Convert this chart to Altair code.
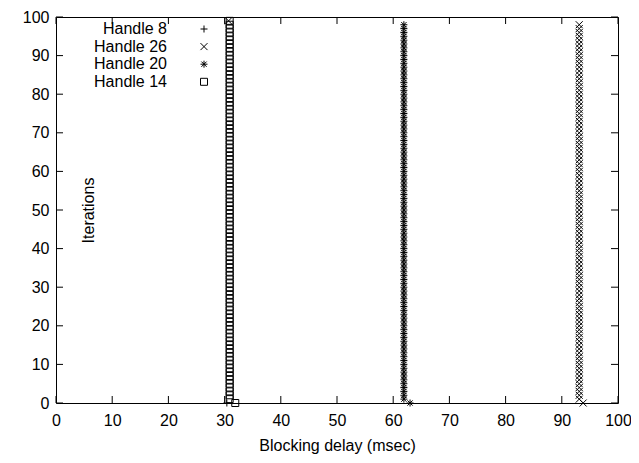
import altair as alt
import pandas as pd

# ---- data ----
handles = ["Handle 8", "Handle 26", "Handle 20", "Handle 14"]

h14_iter = list(range(1, 100)) + [0]
h14_delay = [30.9] * 99 + [31.9]

h20_iter = list(range(1, 99)) + [0]
h20_delay = [61.9] * 98 + [63.0]

h26_iter = list(range(1, 99)) + [0, 99]
h26_delay = [93.1] * 98 + [93.8, 30.7]

h8_iter = [0]
h8_delay = [30.4]

x_ticks = [0, 10, 20, 30, 40, 50, 60, 70, 80, 90, 100]
y_ticks = [0, 10, 20, 30, 40, 50, 60, 70, 80, 90, 100]

rows = []
for name, its, ds in [("Handle 8", h8_iter, h8_delay), ("Handle 26", h26_iter, h26_delay),
                      ("Handle 20", h20_iter, h20_delay), ("Handle 14", h14_iter, h14_delay)]:
    for i, d in zip(its, ds):
        rows.append({"handle": name, "delay": d, "iteration": i})
df = pd.DataFrame(rows)

W, H = 562, 386
FONT = "Liberation Sans"
FS = 16

plus_p = "M-1,0L1,0M0,-1L0,1"
x_p = "M-1,-1L1,1M-1,1L1,-1"
star_p = "M-1,0L1,0M0,-1L0,1M-0.75,-0.75L0.75,0.75M-0.75,0.75L0.75,-0.75"
shape_scale = alt.Scale(domain=handles, range=[plus_p, x_p, star_p, "square"])
size_scale = alt.Scale(domain=handles, range=[49, 49, 64, 70])

xs = alt.Scale(domain=[0, 100], nice=False, zero=False)
ys = alt.Scale(domain=[0, 100], nice=False, zero=False)

x_axis = alt.Axis(
    values=x_ticks, title="Blocking delay (msec)", grid=False, domain=False, ticks=False,
    labelOverlap=False, labelFlush=False,
    labelFont=FONT, labelFontSize=FS, labelColor="black", labelPadding=9,
    titleFont=FONT, titleFontSize=FS, titleFontWeight="normal", titleColor="black", titlePadding=9)
y_axis = alt.Axis(
    values=y_ticks, title="Iterations", grid=False, domain=False, ticks=False,
    labelOverlap=False, labelFlush=False,
    labelFont=FONT, labelFontSize=FS, labelColor="black", labelPadding=7,
    titleFont=FONT, titleFontSize=FS, titleFontWeight="normal", titleColor="black",
    titleX=40, titleY=193, titleAngle=270, titleBaseline="bottom")

points = alt.Chart(df).mark_point(filled=False, color="black", strokeWidth=1, opacity=1).encode(
    x=alt.X("delay:Q", scale=xs, axis=x_axis),
    y=alt.Y("iteration:Q", scale=ys, axis=y_axis),
    shape=alt.Shape("handle:N", scale=shape_scale, legend=None),
    size=alt.Size("handle:N", scale=size_scale, legend=None),
)

xt = pd.DataFrame({"v": x_ticks})
yt = pd.DataFrame({"v": y_ticks})
TL = 7
xb = alt.Chart(xt).mark_rule(color="black", strokeWidth=1).encode(
    x=alt.X("v:Q", scale=xs, axis=x_axis), y=alt.value(H), y2=alt.value(H - TL))
xtop = alt.Chart(xt).mark_rule(color="black", strokeWidth=1).encode(
    x=alt.X("v:Q", scale=xs, axis=x_axis), y=alt.value(0), y2=alt.value(TL))
yl = alt.Chart(yt).mark_rule(color="black", strokeWidth=1).encode(
    y=alt.Y("v:Q", scale=ys, axis=y_axis), x=alt.value(0), x2=alt.value(TL))
yr = alt.Chart(yt).mark_rule(color="black", strokeWidth=1).encode(
    y=alt.Y("v:Q", scale=ys, axis=y_axis), x=alt.value(W - TL), x2=alt.value(W))

leg = pd.DataFrame({"handle": handles, "row": [0, 1, 2, 3]})
leg_base = alt.Chart(leg).transform_calculate(ly="12 + datum.row * 17.6")
leg_text = leg_base.mark_text(align="right", baseline="middle", font=FONT, fontSize=FS, color="black").encode(
    x=alt.value(111), y=alt.Y("ly:Q", scale=None), text="handle:N")
leg_sym = leg_base.mark_point(filled=False, color="black", strokeWidth=1, opacity=1).encode(
    x=alt.value(148), y=alt.Y("ly:Q", scale=None),
    shape=alt.Shape("handle:N", scale=shape_scale, legend=None),
    size=alt.Size("handle:N", scale=size_scale, legend=None))

chart = alt.layer(points, xb, xtop, yl, yr, leg_text, leg_sym).properties(
    width=W, height=H,
    autosize=alt.AutoSizeParams(type="none"),
    padding={"left": 48, "top": 9, "right": 13, "bottom": 60},
    background="white",
).configure_view(stroke="black", strokeWidth=1)

chart.save("out.html", embed_options={"renderer": "svg", "actions": False})
